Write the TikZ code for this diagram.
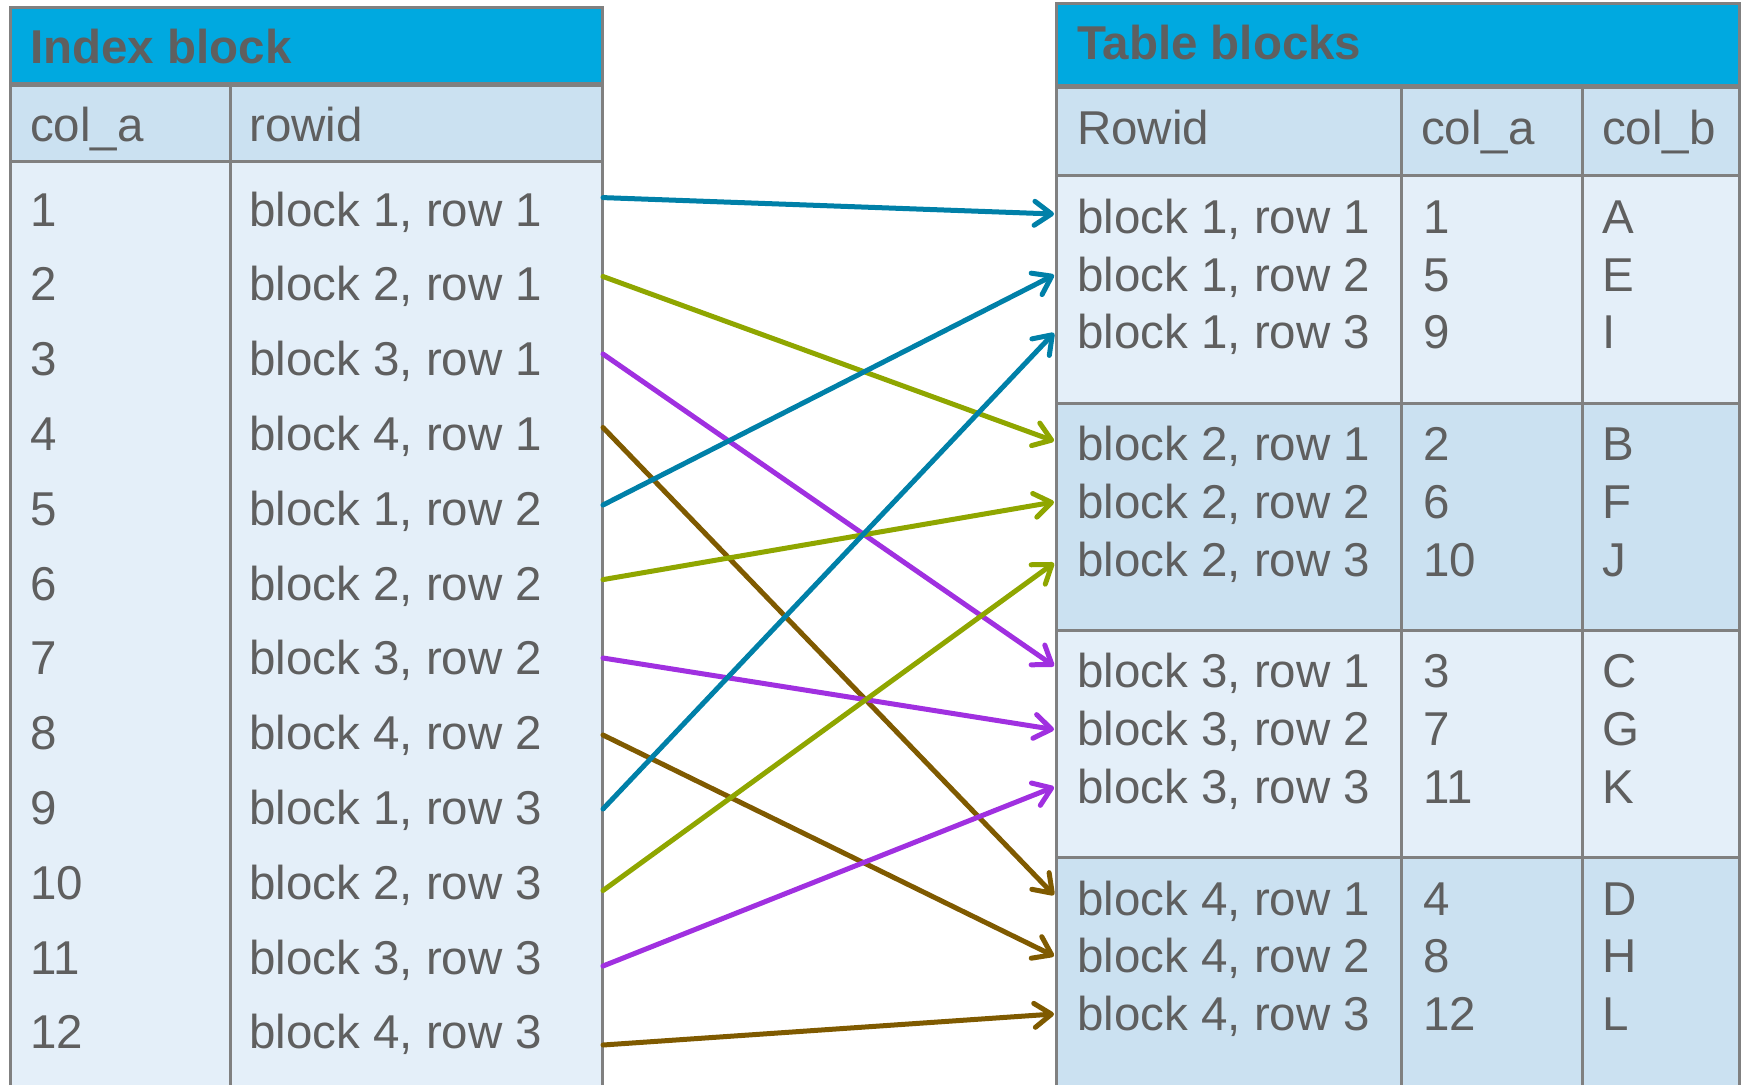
\documentclass[tikz,border=0pt]{standalone}
\usepackage{fontspec}
\setmainfont{Liberation Sans}
\usetikzlibrary{arrows.meta}
\definecolor{hdrblue}{HTML}{00A9E0}
\definecolor{fillmid}{HTML}{CBE1F1}
\definecolor{filllight}{HTML}{E4EFF9}
\definecolor{txtgray}{HTML}{5F5F5F}
\definecolor{rulegray}{HTML}{808080}
\definecolor{linkteal}{HTML}{0080A8}
\definecolor{linkgreen}{HTML}{8FA600}
\definecolor{linkpurple}{HTML}{A030E0}
\definecolor{linkbrown}{HTML}{7F5A00}
\newcommand\cellletter[1]{\ifcase#1\or A\or B\or C\or D\or E\or F\or G\or H\or I\or J\or K\or L\fi}
\begin{document}
\begin{tikzpicture}[x=1pt,y=-1pt,
  cell/.style={anchor=base west, inner sep=0pt, text=txtgray, font=\fontsize{47.5}{56}\selectfont},
  titlecell/.style={cell, font=\fontsize{47.5}{56}\selectfont\bfseries},
  frame/.style={draw=rulegray, line width=3pt},
  headrule/.style={draw=rulegray, line width=5pt},
  link/.style={line width=5pt, line cap=round, -{Straight Barb[length=17pt,width=24pt,line width=5pt,round]}},
]
\useasboundingbox (0,0) rectangle (1741,1085);

% ---------- Index block ----------
\fill[hdrblue] (10,7) rectangle (602,84);
\fill[fillmid] (10,84) rectangle (602,161);
\fill[filllight] (10,161) rectangle (602,1085);
\draw[frame] (10,1085) -- (10,7) -- (602,7) -- (602,1085);
\draw[headrule] (10,84) -- (602,84);
\draw[frame] (10,161) -- (602,161);
\draw[frame] (230,84) -- (230,1085);

\node[titlecell] (idxtitle) at (30,63) {Index block};
\node[cell] (idxhA) at (30,141) {col\_a};
\node[cell] (idxhR) at (249,141) {rowid};

\foreach \i in {1,...,12} {
  \pgfmathsetmacro\yy{209+(\i-1)*74.8+17}
  \pgfmathtruncatemacro\bb{mod(\i-1,4)+1}
  \pgfmathtruncatemacro\rr{div(\i-1,4)+1}
  \node[cell] (ia\i) at (30,\yy) {\i};
  \node[cell] (ir\i) at (249,\yy) {block \bb, row \rr};
}

% ---------- Table blocks ----------
\fill[hdrblue] (1056,3) rectangle (1739,86);
\fill[fillmid] (1056,86) rectangle (1739,175.5);
\fill[filllight] (1056,175.5) rectangle (1739,403);
\fill[fillmid] (1056,403) rectangle (1739,630.5);
\fill[filllight] (1056,630.5) rectangle (1739,857.5);
\fill[fillmid] (1056,857.5) rectangle (1739,1085);
\draw[frame] (1056,1085) -- (1056,3) -- (1739,3) -- (1739,1085);
\draw[headrule] (1056,86) -- (1739,86);
\foreach \yy in {175.5,403,630.5,857.5} {
  \draw[frame] (1056,\yy) -- (1739,\yy);
}
\draw[frame] (1401,86) -- (1401,1085);
\draw[frame] (1582,86) -- (1582,1085);

\node[titlecell] (tbltitle) at (1077,59) {Table blocks};
\node[cell] (tblhR) at (1077,144) {Rowid};
\node[cell] (tblhA) at (1421,144) {col\_a};
\node[cell] (tblhB) at (1602,144) {col\_b};

\foreach \b in {1,...,4} {
  \foreach \r in {1,2,3} {
    \pgfmathsetmacro\yy{216.5+(\b-1)*227.2+(\r-1)*57.7+17}
    \pgfmathtruncatemacro\vv{(\r-1)*4+\b}
    \node[cell] (tr\b\r) at (1077,\yy) {block \b, row \r};
    \node[cell] (ta\b\r) at (1423,\yy) {\vv};
    \node[cell] (tb\b\r) at (1602,\yy) {\cellletter{\vv}};
  }
}

% ---------- Links from index entries to table rows ----------
\foreach \i/\sy/\dy/\col in {
  1/197.6/214/linkteal, 2/276.5/441/linkgreen, 3/354/666/linkpurple,
  4/427.5/895/linkbrown, 5/505/275/linkteal, 6/579.6/502/linkgreen,
  7/658/729.5/linkpurple, 8/735/956/linkbrown, 9/809/333/linkteal,
  10/890.5/563/linkgreen, 11/966/787/linkpurple, 12/1045/1014/linkbrown} {
  \coordinate (src\i) at (603,\sy);
  \coordinate (dst\i) at (1054,\dy);
  \draw[link, draw=\col] (src\i) -- (dst\i);
}
\end{tikzpicture}
\end{document}
